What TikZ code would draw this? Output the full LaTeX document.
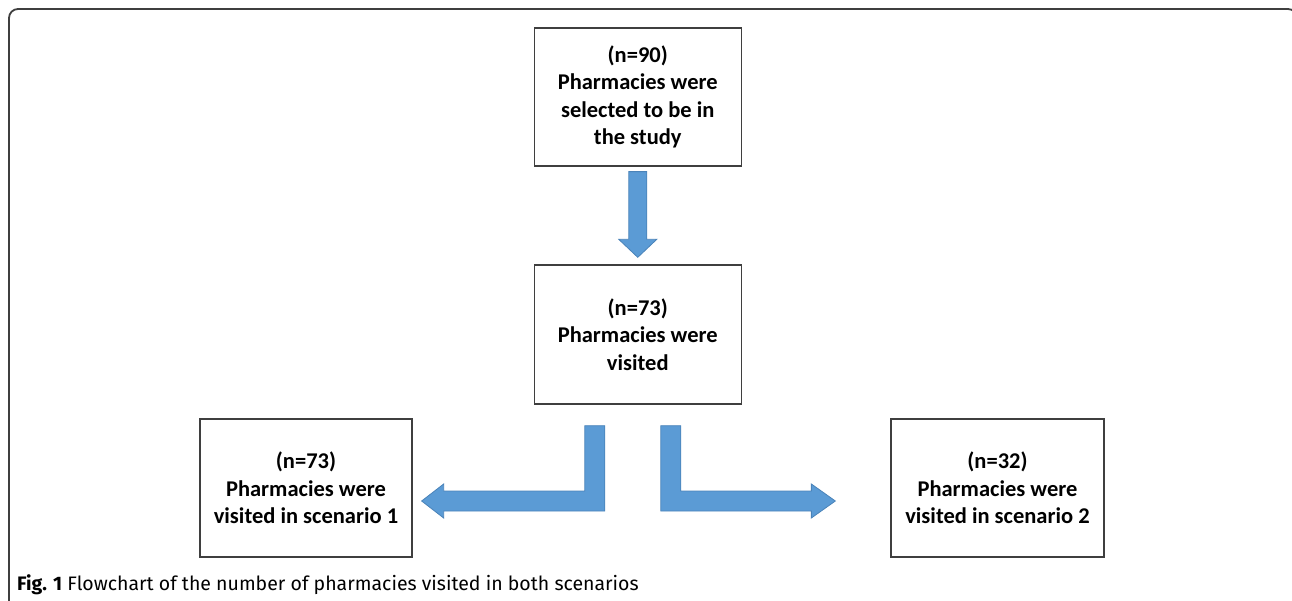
\documentclass[tikz,border=0pt]{standalone}
\usepackage{fontspec}
\setmainfont{Carlito}
\newfontfamily\capfont{Fira Sans}
\usetikzlibrary{calc}
\definecolor{arrowblue}{HTML}{5B9BD5}
\definecolor{arrowedge}{HTML}{4A83B9}
\definecolor{boxgray}{HTML}{3F3F3F}

\begin{document}
\begin{tikzpicture}[x=1pt, y=-1pt,
    flowbox/.style={draw=boxgray, line width=1.3pt, minimum width=207pt, minimum height=138pt,
        align=center, inner sep=0pt, font=\bfseries\fontsize{22.5}{27.5}\selectfont},
    blockarrow/.style={fill=arrowblue, draw=arrowedge, line width=0.8pt, line join=miter}]
        \useasboundingbox (0,0) rectangle (1292,601);
        % outer frame, cut at the right and bottom
        \begin{scope}
            \clip (0,0) rectangle (1292,601);
            \draw [boxgray, line width=1.8pt, rounded corners=9pt] (9,640) -- (9,9) -- (1297,9) -- (1297,640);
        \end{scope}

        \node [flowbox] (selected) at (637.75,97) {(n=90)\\Pharmacies were\\selected to be in\\the study};
        \node [flowbox, minimum height=139pt] (visited) at (637.75,334.5) {(n=73)\\Pharmacies were\\visited};
        \node [flowbox, minimum width=212pt] (one) at (306,488) {(n=73)\\Pharmacies were\\visited in scenario 1};
        \node [flowbox, minimum width=213pt] (two) at (997.5,488) {(n=32)\\Pharmacies were\\visited in scenario 2};

        % down arrow
        \draw [blockarrow] ($(selected.south)+(-9,5)$) -- ($(selected.south)+(9,5)$) -- ($(visited.north)+(9,-25)$)
            -- ($(visited.north)+(19,-25)$) -- ($(visited.north)+(0,-7)$) -- ($(visited.north)+(-19,-25)$)
            -- ($(visited.north)+(-9,-25)$) -- cycle;

        % left bent arrow
        \coordinate (tipone) at ($(one.east)+(9,13)$);
        \coordinate (stemone) at ($(visited.south)+(-43,21)$);
        \draw [blockarrow] (tipone) -- ++(22,-17) -- ++(0,7) -- ($(stemone |- tipone)+(-10,-10)$)
            -- ($(stemone)+(-10,0)$) -- ($(stemone)+(10,0)$) -- ($(stemone |- tipone)+(10,10)$)
            -- ($(tipone)+(22,10)$) -- ++(0,7) -- cycle;

        % right bent arrow
        \coordinate (tiptwo) at ($(two.west)+(-55,13)$);
        \coordinate (stemtwo) at ($(visited.south)+(33,21)$);
        \draw [blockarrow] (tiptwo) -- ++(-24,-17) -- ++(0,7) -- ($(stemtwo |- tiptwo)+(10,-10)$)
            -- ($(stemtwo)+(10,0)$) -- ($(stemtwo)+(-10,0)$) -- ($(stemtwo |- tiptwo)+(-10,10)$)
            -- ($(tiptwo)+(-24,10)$) -- ++(0,7) -- cycle;

        \node [anchor=base west, inner sep=0pt, font=\capfont\fontsize{19.5}{22}\selectfont] (caption) at (17,590)
            {\textbf{Fig. 1} Flowchart of the number of pharmacies visited in both scenarios};
\end{tikzpicture}
\end{document}
